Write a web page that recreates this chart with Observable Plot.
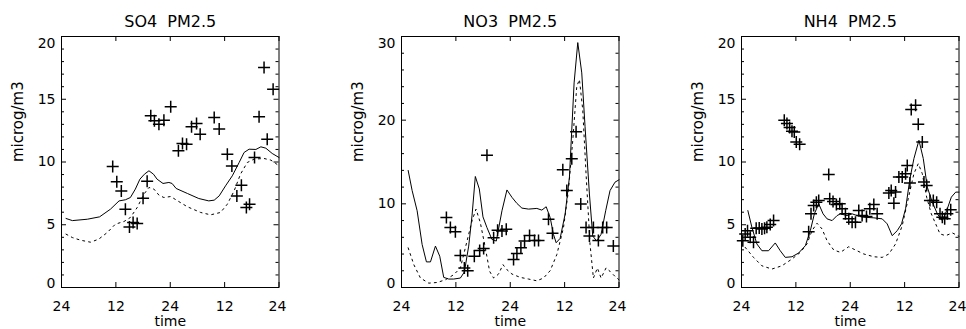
<!DOCTYPE html>
<html><head><meta charset="utf-8">
<script src="https://cdn.jsdelivr.net/npm/d3@7"></script>
<script src="https://cdn.jsdelivr.net/npm/@observablehq/plot@0.6"></script>
<style>
html,body{margin:0;padding:0;background:#fff;}
#chart{position:relative;width:966px;height:329px;overflow:hidden;background:#fff;}
#chart svg{position:absolute;top:0;overflow:visible;}
svg text{white-space:pre;}
g[aria-label="title"] text{letter-spacing:1px;}
g[aria-label="ylabel"] text{letter-spacing:1.2px;}
g[aria-label="yticklabel"] text{letter-spacing:0.6px;}
g[aria-label="xlabel"] text{letter-spacing:0.6px;}
</style></head><body><div id="chart"></div>
<script>
// ---- shared axis data ----
const xTicks = [0, 12, 24, 36, 48];
const xTickLabels = ["24", "12", "24", "12", "24"];
const xLabel = "time";
const yLabel = "microg/m3";

// ---- SO4 ----
const so4Title = "SO4  PM2.5";
const so4YTicks = [0, 5, 10, 15, 20];
const so4YMinor = [1,2,3,4,6,7,8,9,11,12,13,14,16,17,18,19];
const so4SolidHour = [1.0,2.4,5.7,8.4,10.8,12.7,14.1,15.2,16.3,17.3,18.3,19.3,20.3,21.1,22.4,23.7,24.4,25.3,27.8,30.3,32.5,33.7,34.8,36.2,37.7,39.2,40.3,41.4,42.9,44.0,45.1,46.5,48.0];
const so4SolidValue = [5.50,5.33,5.44,5.63,6.24,6.90,6.99,7.17,7.84,8.63,9.03,9.30,9.03,8.63,8.29,8.37,8.29,7.89,7.49,7.09,6.90,6.96,7.30,8.10,8.90,9.96,10.76,11.02,11.0,11.21,11.10,10.68,10.36];
const so4DashHour = [1.0,2.4,4.2,6.4,8.2,10.1,11.9,13.8,15.2,16.7,18.2,19.3,20.4,21.5,22.6,24.1,25.6,27.8,30.7,32.9,35.1,36.6,38.1,39.5,41.0,42.5,44.7,46.2,47.3,48.0];
const so4DashValue = [4.25,3.98,3.77,3.61,3.85,4.38,5.05,5.26,5.58,6.37,7.44,7.97,7.84,7.36,7.17,7.25,6.91,6.43,5.98,5.79,5.98,6.64,7.70,9.03,9.96,10.23,10.28,10.15,9.88,9.69];
const so4ObsHour = [11.3,12.2,13.2,14.1,15.0,15.8,16.7,18.0,18.9,19.7,20.5,21.5,22.6,24.1,25.8,26.7,27.6,28.7,29.8,30.6,33.7,34.8,36.6,37.6,38.7,39.7,40.8,41.5,42.6,43.6,44.7,45.4,46.7];
const so4ObsValue = [9.64,8.42,7.68,6.24,4.83,5.18,5.10,7.12,8.47,13.68,13.28,13.01,13.33,14.40,10.89,11.47,11.42,12.80,13.07,12.22,13.55,12.62,10.62,9.69,7.30,8.15,6.37,6.64,10.36,13.60,17.53,11.82,15.80];

// ---- NO3 ----
const no3Title = "NO3  PM2.5";
const no3YTicks = [0, 10, 20, 30];
const no3YMinor = [2,4,6,8,12,14,16,18,22,24,26,28];
const no3SolidHour = [1.47,2.35,3.45,4.55,5.5,6.39,7.49,8.44,9.32,10.42,11.52,12.99,13.87,14.83,15.56,16.29,17.17,17.98,18.86,19.96,20.92,22.17,23.27,24.37,25.47,26.57,28.04,29.87,30.97,31.93,32.81,33.54,34.13,35.01,36.11,37.06,38.09,38.9,39.78,40.51,41.47,42.2,43.08,44.04,45.06,46.02,47.12,48.0];
const no3SolidValue = [13.99,11.58,9.17,5.15,3.06,3.06,4.95,3.74,1.21,1.01,1.01,1.13,1.85,4.95,8.56,13.27,11.78,8.44,7.16,5.75,5.55,9.17,11.66,10.78,10.05,9.49,9.37,9.45,9.25,9.65,8.36,6.35,5.35,5.87,8.77,13.19,24.45,29.27,25.65,19.22,11.18,6.15,5.55,6.35,9.17,11.58,12.59,12.87];
const no3DashHour = [1.47,2.72,4.18,6.02,7.85,9.69,11.52,12.99,14.46,15.56,16.44,17.39,18.5,19.45,20.33,21.43,22.39,23.27,24.37,26.2,28.04,29.87,31.34,32.81,34.28,35.75,36.84,37.8,38.68,39.27,40.0,40.73,41.61,42.35,43.23,44.04,45.14,46.02,47.12,48.0];
const no3DashValue = [4.74,2.73,1.13,0.52,0.60,0.92,1.53,2.33,5.55,7.96,9.37,7.76,4.74,1.93,1.13,1.61,2.73,2.13,1.61,1.21,1.01,0.80,1.13,2.01,3.94,7.16,11.58,17.61,24.05,24.85,21.23,13.59,5.15,1.13,2.33,1.13,2.33,1.93,1.33,0.92];
const no3ObsHour = [9.91,10.79,11.89,12.99,13.87,14.61,16.07,17.25,18.13,18.86,20.33,21.21,22.17,23.12,24.73,25.47,26.35,27.16,28.26,29.36,30.24,32.44,33.32,35.6,36.48,37.58,38.53,39.56,40.73,41.47,42.35,43.45,44.4,45.28,46.75];
const no3ObsValue = [8.36,7.16,6.67,3.82,2.33,2.01,3.74,4.42,4.66,15.80,5.95,6.84,6.76,6.96,3.34,4.06,4.74,5.55,6.23,5.63,5.63,8.16,6.47,14.07,11.58,15.40,18.62,9.97,7.16,6.15,7.16,5.63,7.16,7.16,4.95];

// ---- NH4 ----
const nh4Title = "NH4  PM2.5";
const nh4YTicks = [0, 5, 10, 15, 20];
const nh4YMinor = [1,2,3,4,6,7,8,9,11,12,13,14,16,17,18,19];
const nh4SolidHour = [1.40,2.29,3.39,4.5,5.97,7.45,8.55,9.66,11.14,12.61,14.09,15.19,16.08,17.04,18.0,18.88,19.99,21.09,21.83,23.3,24.41,25.52,26.99,29.2,31.05,32.15,33.26,34.37,35.32,36.21,37.17,38.05,39.16,40.12,41.0,42.11,43.22,44.32,45.28,46.31,47.27,48.0];
const nh4SolidValue = [6.13,4.8,3.47,2.93,2.93,3.55,2.93,2.4,2.45,2.75,3.33,4.53,5.87,6.67,5.87,5.47,5.33,5.73,5.87,5.73,5.87,5.73,5.6,5.55,5.47,5.07,4.13,4.53,5.07,6.27,8.67,10.27,11.73,10.27,8.0,6.8,5.87,5.33,6.13,7.2,7.6,7.6];
const nh4DashHour = [0.81,2.65,4.5,6.71,8.92,11.14,12.98,14.45,15.56,16.67,17.77,18.88,20.35,21.83,23.67,25.15,26.99,29.2,31.05,32.52,34.0,35.47,36.95,38.05,39.01,39.9,40.86,41.89,42.85,43.81,45.06,46.53,48.0];
const nh4DashValue = [3.2,2.4,1.73,1.47,1.73,2.27,2.8,3.47,4.53,5.12,4.67,3.73,2.99,2.8,3.25,2.99,2.67,2.45,2.4,2.67,3.47,4.93,7.33,9.07,9.87,9.07,7.2,5.87,5.07,4.27,4.13,4.35,4.08];
const nh4ObsHour = [0.29,0.81,1.33,1.92,2.65,3.24,3.91,4.5,5.09,5.6,6.34,7.08,9.44,10.03,10.62,11.14,11.65,12.09,12.83,14.82,15.34,15.93,16.52,17.04,19.25,19.47,20.2,20.94,21.68,22.2,22.94,23.67,24.41,25.15,25.88,26.62,27.58,28.32,29.2,29.94,32.52,33.04,33.63,34.0,34.73,35.47,36.21,36.58,37.17,37.46,38.42,39.01,39.9,40.27,40.86,41.59,42.33,43.07,43.81,44.32,44.84,45.43,46.17];
const nh4ObsValue = [3.73,4.27,4.53,4.0,3.6,4.72,4.75,4.67,4.72,4.8,5.01,5.33,13.33,13.07,12.75,12.45,12.4,11.6,11.41,4.45,5.87,6.53,6.8,6.93,9.01,7.07,6.85,6.61,6.67,6.27,5.87,5.47,5.2,5.2,6.13,5.73,5.65,6.27,6.61,5.87,7.52,7.73,6.72,7.6,8.8,8.8,9.07,9.73,8.32,14.19,14.53,13.01,11.6,8.4,8.13,6.93,6.93,6.8,5.87,5.6,5.47,5.87,6.19];

// ---- drawing ----
const plusSymbol = {
  draw(ctx, size) {
    const r = Math.sqrt(size / Math.PI);
    ctx.moveTo(-r, 0); ctx.lineTo(r, 0);
    ctx.moveTo(0, -r); ctx.lineTo(0, r);
  }
};

const zip = (xs, ys) => xs.map((x, i) => ({x, y: ys[i]}));

const panels = [
  {title: so4Title, yTicks: so4YTicks, yMinor: so4YMinor, solid: zip(so4SolidHour, so4SolidValue), dash: zip(so4DashHour, so4DashValue), obs: zip(so4ObsHour, so4ObsValue)},
  {title: no3Title, yTicks: no3YTicks, yMinor: no3YMinor, solid: zip(no3SolidHour, no3SolidValue), dash: zip(no3DashHour, no3DashValue), obs: zip(no3ObsHour, no3ObsValue)},
  {title: nh4Title, yTicks: nh4YTicks, yMinor: nh4YMinor, solid: zip(nh4SolidHour, nh4SolidValue), dash: zip(nh4DashHour, nh4DashValue), obs: zip(nh4ObsHour, nh4ObsValue)}
];
const lefts = [0, 340, 680];

const W = 285, H = 329, mL = 61, mR = 6.5, mT = 36, mB = 42;
const fw = W - mL - mR, fh = H - mT - mB;

panels.forEach((p, k) => {
  const yMax = p.yTicks[p.yTicks.length - 1];
  const yTop = [yMax];
  const yBottom = [p.yTicks[0]];
  const yMid = p.yTicks.slice(1, -1);
  const xInner = xTicks.slice(0, -1);
  const xLast = xTicks.slice(-1);
  const svg = Plot.plot({
    width: W, height: H,
    marginLeft: mL, marginRight: mR, marginTop: mT, marginBottom: mB,
    x: {domain: [0, 48], axis: null},
    y: {domain: [0, yMax], axis: null},
    style: {fontFamily: "'DejaVu Sans', sans-serif", fontSize: "14px", color: "#000", background: "#fff", overflow: "visible"},
    marks: [
      Plot.line(p.solid, {x: "x", y: "y", stroke: "#000", strokeWidth: 1}),
      Plot.line(p.dash, {x: "x", y: "y", stroke: "#000", strokeWidth: 1, strokeDasharray: "2,4"}),
      Plot.dot(p.obs, {x: "x", y: "y", symbol: plusSymbol, r: 6, stroke: "#000", strokeWidth: 1.5, fill: "none"}),
      Plot.tickY(p.yMinor, {y: d => d, insetRight: fw - 3, stroke: "#000"}),
      Plot.tickY(p.yMinor, {y: d => d, insetLeft: fw - 3, stroke: "#000"}),
      Plot.tickY(p.yTicks, {y: d => d, insetRight: fw - 5, stroke: "#000"}),
      Plot.tickY(p.yTicks, {y: d => d, insetLeft: fw - 5, stroke: "#000"}),
      Plot.tickX(xTicks, {x: d => d, insetTop: fh - 5, stroke: "#000"}),
      Plot.tickX(xTicks, {x: d => d, insetBottom: fh - 5, stroke: "#000"}),
      Plot.frame({stroke: "#000", strokeWidth: 1}),
      Plot.text(xInner, {x: d => d, text: d => xTickLabels[xTicks.indexOf(d)], frameAnchor: "bottom", dy: 14, lineAnchor: "top", fontSize: 14, ariaLabel: "xticklabel"}),
      Plot.text(xLast, {x: d => d, text: d => xTickLabels[xTicks.indexOf(d)], frameAnchor: "bottom", dx: -1.5, dy: 14, lineAnchor: "top", fontSize: 14, ariaLabel: "xticklabel"}),
      Plot.text(yMid, {y: d => d, text: d => String(d), frameAnchor: "left", dx: -6, textAnchor: "end", lineAnchor: "middle", fontSize: 14, ariaLabel: "yticklabel"}),
      Plot.text(yTop, {y: d => d, text: d => String(d), frameAnchor: "left", dx: -6, dy: 7, textAnchor: "end", lineAnchor: "middle", fontSize: 14, ariaLabel: "yticklabel"}),
      Plot.text(yBottom, {y: d => d, text: d => String(d), frameAnchor: "left", dx: -6, dy: -4, textAnchor: "end", lineAnchor: "middle", fontSize: 14, ariaLabel: "yticklabel"}),
      Plot.text([p.title], {frameAnchor: "top", dy: -21, lineAnchor: "top", fontSize: 16, ariaLabel: "title"}),
      Plot.text([yLabel], {frameAnchor: "left", dx: -43, rotate: -90, lineAnchor: "middle", fontSize: 15, ariaLabel: "ylabel"}),
      Plot.text([xLabel], {frameAnchor: "bottom", dy: 29, lineAnchor: "top", fontSize: 14, ariaLabel: "xlabel"})
    ]
  });
  svg.style.left = lefts[k] + "px";
  document.getElementById("chart").appendChild(svg);
});
</script>
</body></html>
